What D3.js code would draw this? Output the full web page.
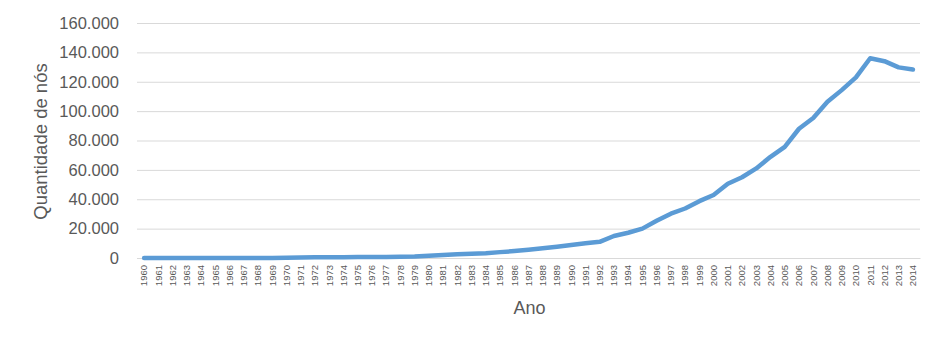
<!DOCTYPE html>
<html>
<head>
<meta charset="utf-8">
<script src="https://cdn.jsdelivr.net/npm/d3@7"></script>
<style>
    body { margin: 0; background: #ffffff; }
    svg { display: block; }
</style>
</head>
<body>
<div id="chart"></div>
<script>
"use strict";

/* global d3 */

// anos 1960 .. 2014
var anos = d3.range(1960, 2015).map(String);

var quantidadeNos = [
    0, 0, 0, 0, 0, 0, 0, 0, 0, 0,
    100, 400, 500, 500, 500, 600, 600, 700, 900, 1100,
    1600, 2100, 2500, 2900, 3300, 4000, 4700, 5600, 6600, 7600,
    8800, 10000, 11000, 15000, 17200, 20000, 25300, 30200, 33700, 38700,
    42900, 50600, 55000, 61000, 68900, 75700, 88000, 95300, 106400, 114300,
    123000, 136000, 134000, 129800, 128300
];

var yTicks = [0, 20000, 40000, 60000, 80000, 100000, 120000, 140000, 160000];

var yAxisTitle = "Quantidade de nós";
var xAxisTitle = "Ano";


(function() {

    var width = 944, height = 347;
    var margin = {top: 23, right: 24, bottom: 89, left: 137};
    var plotW = width - margin.left - margin.right;
    var plotH = height - margin.top - margin.bottom;

    var textColor = "#595959";
    var gridColor = "#d9d9d9";
    var fontFamily = "'Liberation Sans', Arial, sans-serif";

    var svg = d3.select("#chart").append("svg")
        .attr("width", width)
        .attr("height", height);

    var g = svg.append("g")
        .attr("transform", "translate(" + margin.left + "," + margin.top + ")");

    var xScale = d3.scaleBand().domain(anos).range([0, plotW]);
    var yScale = d3.scaleLinear().domain([0, 160000]).range([plotH, 0]);

    var fmt = function(v) { return d3.format(",")(v).replace(/,/g, "."); };

    // horizontal gridlines + y labels
    var yAxis = d3.axisLeft(yScale)
        .tickValues(yTicks)
        .tickSize(-plotW)
        .tickPadding(18)
        .tickFormat(fmt);

    var yAxisGroup = g.append("g").call(yAxis);
    yAxisGroup.select(".domain").remove();
    yAxisGroup.selectAll(".tick line")
        .attr("stroke", gridColor)
        .attr("stroke-width", 1);
    yAxisGroup.selectAll(".tick text")
        .attr("fill", textColor)
        .attr("font-family", fontFamily)
        .attr("font-size", "16.5px");

    // x axis, rotated year labels
    var xAxis = d3.axisBottom(xScale).tickSize(0).tickPadding(0);
    var xAxisGroup = g.append("g")
        .attr("transform", "translate(0," + plotH + ")")
        .call(xAxis);
    xAxisGroup.select(".domain")
        .attr("stroke", gridColor)
        .attr("stroke-width", 1);
    xAxisGroup.selectAll(".tick text")
        .attr("fill", textColor)
        .attr("font-family", fontFamily)
        .attr("font-size", "9.5px")
        .style("text-anchor", "end")
        .attr("transform", "translate(0,7) rotate(-90)")
        .attr("x", 0)
        .attr("y", 0)
        .attr("dy", "0.35em");

    // the series line
    var line = d3.line()
        .x(function(d, i) { return xScale(anos[i]) + xScale.bandwidth() / 2; })
        .y(function(d) { return yScale(d); });

    g.append("path")
        .datum(quantidadeNos)
        .attr("fill", "none")
        .attr("stroke", "#5b9bd5")
        .attr("stroke-width", 4.5)
        .attr("stroke-linejoin", "round")
        .attr("stroke-linecap", "round")
        .attr("d", line);

    // axis titles
    svg.append("text")
        .text(yAxisTitle)
        .attr("font-family", fontFamily)
        .attr("font-size", "18.5px")
        .attr("fill", textColor)
        .style("text-anchor", "middle")
        .attr("transform", "translate(47," + (margin.top + plotH / 2 + 1) + ") rotate(-90)");

    svg.append("text")
        .text(xAxisTitle)
        .attr("font-family", fontFamily)
        .attr("font-size", "18px")
        .attr("fill", textColor)
        .style("text-anchor", "middle")
        .attr("x", margin.left + plotW / 2 + 1)
        .attr("y", 314);

})();
</script>
</body>
</html>
